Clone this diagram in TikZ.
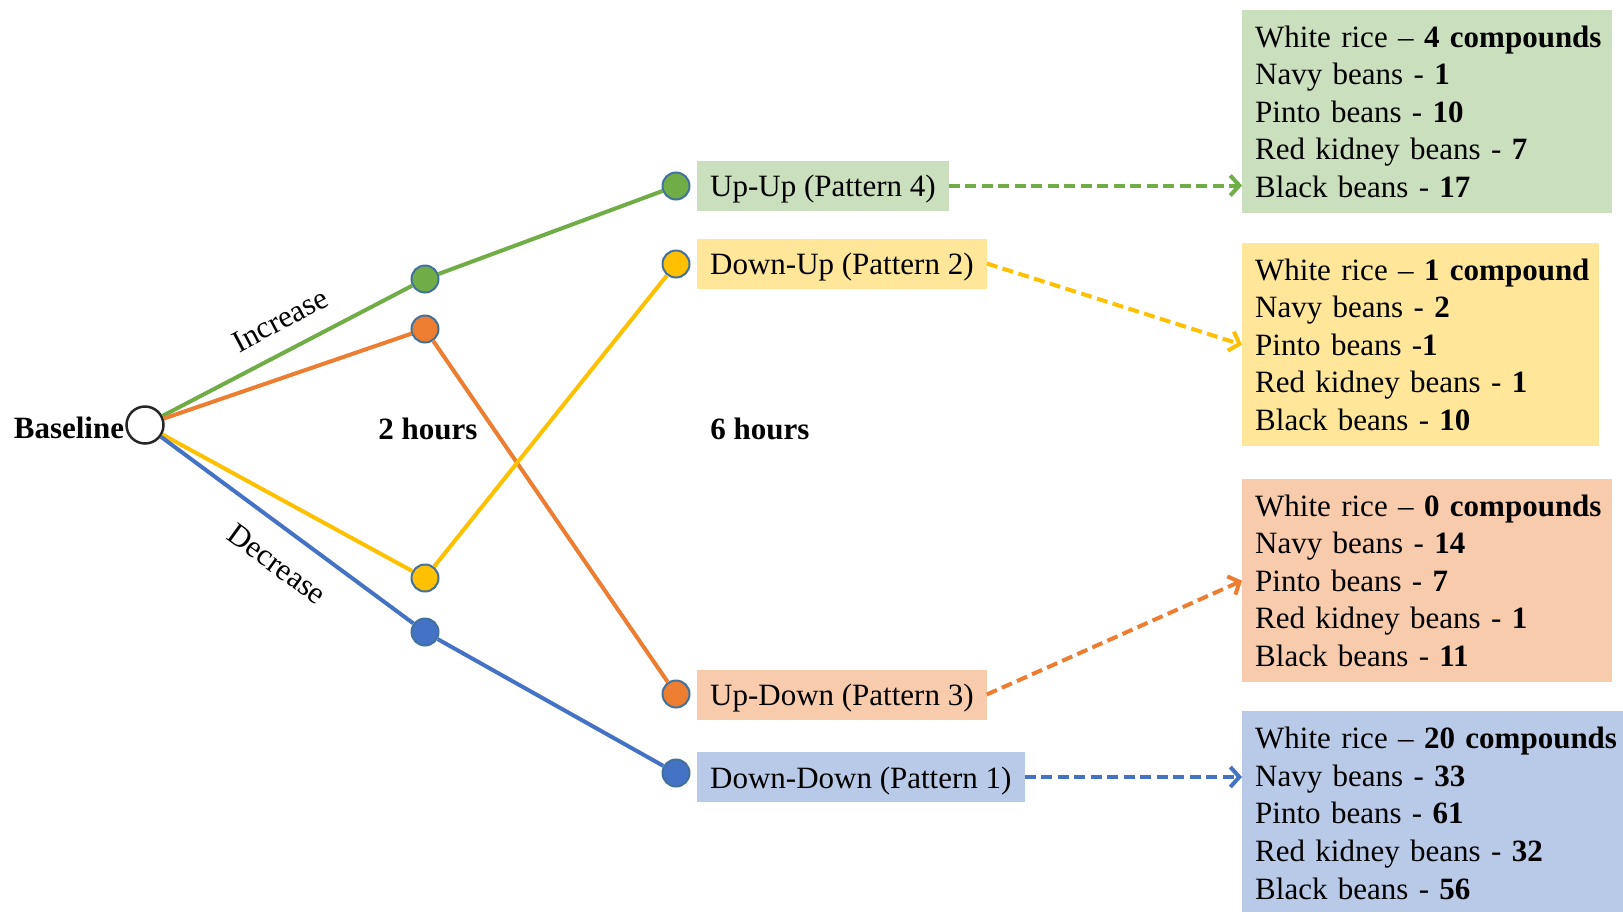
\documentclass[tikz,border=0pt]{standalone}
\usepackage{fontspec}
\setmainfont{Liberation Serif}
\usetikzlibrary{arrows.meta}
\definecolor{cgreen}{HTML}{70AD47}
\definecolor{corange}{HTML}{ED7D31}
\definecolor{cyellow}{HTML}{FFC000}
\definecolor{cblue}{HTML}{4472C4}
\definecolor{lgreen}{HTML}{C9DFBD}
\definecolor{lorange}{HTML}{F8CBAD}
\definecolor{lyellow}{HTML}{FFE699}
\definecolor{lblue}{HTML}{B9CAE8}
\definecolor{cline}{HTML}{41719C}
\newcommand{\rowline}[1]{\mbox{#1}}
\begin{document}
\begin{tikzpicture}[x=1pt,y=-1pt,
  font=\fontsize{31}{37.6}\selectfont,
  dot/.style={circle, draw=cline, line width=2pt, minimum size=27pt, inner sep=0pt},
  bdot/.style={circle, draw=black!85, line width=2.5pt, fill=white, minimum size=37pt, inner sep=0pt},
  link/.style={line width=4pt},
  flow/.style={line width=4pt, dash pattern=on 11pt off 5.5pt, -{Straight Barb[length=9pt,width=20pt]}},
  pbox/.style={anchor=west, inner xsep=13pt, inner ysep=0pt, minimum height=50pt, text height=26pt, text depth=4pt},
  rbox/.style={anchor=north west, inner xsep=13pt, inner ysep=0pt, align=left}]
\useasboundingbox (0,0) rectangle (1623,911);

\node[bdot] (base) at (145,425) {};
\node[dot, fill=cgreen] (g2) at (425,279) {};
\node[dot, fill=corange] (o2) at (425,329) {};
\node[dot, fill=cyellow] (y2) at (425,578) {};
\node[dot, fill=cblue] (b2) at (425,632) {};
\node[dot, fill=cgreen] (g6) at (676,186) {};
\node[dot, fill=cyellow] (y6) at (676,264) {};
\node[dot, fill=corange] (o6) at (676,694) {};
\node[dot, fill=cblue] (b6) at (676,773) {};

\draw[link, cgreen] (base) -- (g2) -- (g6);
\draw[link, corange] (base) -- (o2) -- (o6);
\draw[link, cyellow] (base) -- (y2) -- (y6);
\draw[link, cblue] (base) -- (b2) -- (b6);

\node[anchor=east, inner sep=1pt, yshift=-3pt] (blabel) at (base.west) {\bfseries Baseline};
\node (t2) at (428,429) {\bfseries 2 hours};
\node (t6) at (760,429) {\bfseries 6 hours};
\node[rotate=28] (inc) at (280,320) {Increase};
\node[rotate=-36] (dec) at (277,564) {Decrease};

% pattern boxes
\node[pbox, fill=lgreen] (p4) at (697,185.5) {Up-Up (Pattern 4)};
\node[pbox, fill=lyellow] (p2) at (697,263.5) {Down-Up (Pattern 2)};
\node[pbox, fill=lorange] (p3) at (697,694.5) {Up-Down (Pattern 3)};
\node[pbox, fill=lblue] (p1) at (697,777) {Down-Down (Pattern 1)};

% result boxes
\node[rbox, fill=lgreen, text width=344pt, minimum height=203pt] (r4) at (1242,10) {%
\rowline{White rice – \textbf{4 compounds}}\\
\rowline{Navy beans - \textbf{1}}\\
\rowline{Pinto beans - \textbf{10}}\\
\rowline{Red kidney beans - \textbf{7}}\\
\rowline{Black beans - \textbf{17}}};
\node[rbox, fill=lyellow, text width=331pt, minimum height=203pt] (r2) at (1242,243) {%
\rowline{White rice – \textbf{1 compound}}\\
\rowline{Navy beans - \textbf{2}}\\
\rowline{Pinto beans -\textbf{1}}\\
\rowline{Red kidney beans - \textbf{1}}\\
\rowline{Black beans - \textbf{10}}};
\node[rbox, fill=lorange, text width=344pt, minimum height=203pt] (r3) at (1242,479) {%
\rowline{White rice – \textbf{0 compounds}}\\
\rowline{Navy beans - \textbf{14}}\\
\rowline{Pinto beans - \textbf{7}}\\
\rowline{Red kidney beans - \textbf{1}}\\
\rowline{Black beans - \textbf{11}}};
\node[rbox, fill=lblue, text width=369pt, minimum height=204pt] (r1) at (1242,711) {%
\rowline{White rice – \textbf{20 compounds}}\\
\rowline{Navy beans - \textbf{33}}\\
\rowline{Pinto beans - \textbf{61}}\\
\rowline{Red kidney beans - \textbf{32}}\\
\rowline{Black beans - \textbf{56}}};

% arrows
\draw[flow, cgreen] (p4.east) -- (p4.east -| r4.west);
\draw[flow, cyellow] (p2.east) -- (r2.west);
\draw[flow, corange] (p3.east) -- (r3.west);
\draw[flow, cblue] (p1.east) -- (p1.east -| r1.west);
\end{tikzpicture}
\end{document}
